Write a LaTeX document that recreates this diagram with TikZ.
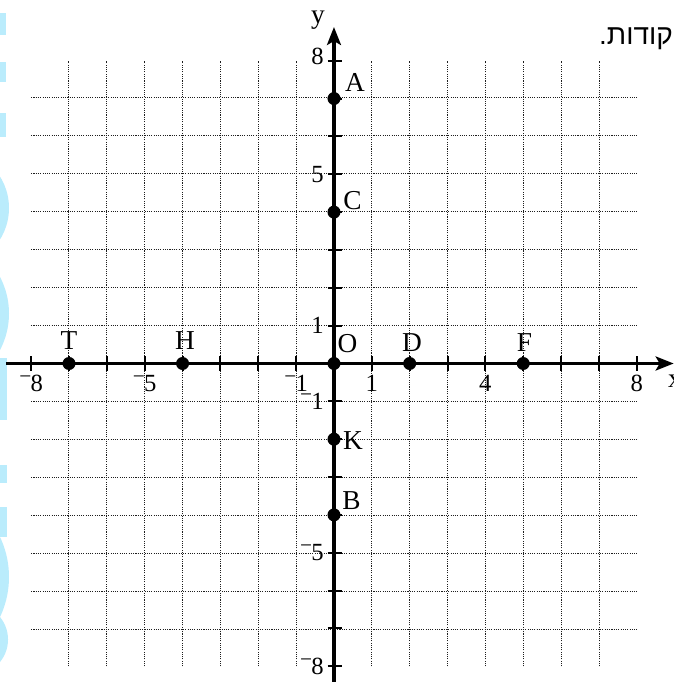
\documentclass[tikz,border=0pt]{standalone}
\usepackage{fontspec}
\setmainfont{Liberation Serif}
\newfontfamily\hebfont[Script=Hebrew]{Liberation Sans}
\TeXXeTstate=1
\usetikzlibrary{arrows.meta}
\definecolor{wm}{RGB}{186,236,252}
\definecolor{gridc}{RGB}{30,30,30}
\newcommand{\mn}{\raisebox{0.32em}{\fontsize{16pt}{16pt}\selectfont −}\kern-0.5pt}
\begin{document}
\begin{tikzpicture}[x=28.3875pt,y=28.3875pt,
  wmark/.style={fill=wm,draw=none},
  gridl/.style={draw=gridc,line width=0.8pt,dash pattern=on 0.8pt off 0.9pt},
  axisl/.style={line width=2.3pt,-{Stealth[length=13.5pt,width=10.5pt,inset=3pt]}},
  tk/.style={line width=1.5pt},
  tl/.style={font=\fontsize{18.5pt}{20pt}\selectfont,inner sep=0pt},
  pl/.style={font=\fontsize{20.5pt}{22pt}\selectfont,inner sep=0pt},
  dot/.style={circle,fill=black,inner sep=0pt,minimum size=9.75pt}]
\useasboundingbox (-8.824,-8.415) rectangle (8.983,9.604);
% watermark fragments at the left edge
\fill[wmark] (-8.9,9.261) rectangle (-8.666,8.679);
\fill[wmark] (-8.9,7.966) rectangle (-8.666,7.437);
\fill[wmark] (-8.9,6.618) rectangle (-8.666,5.984);
\fill[wmark] (-10.161,4.108) circle (1.575);
\fill[wmark] (-10.660,1.321) circle (2.074);
\fill[wmark] (-8.9,0.145) rectangle (-8.639,-1.493);
\fill[wmark] (-8.9,-2.682) rectangle (-8.639,-3.157);
\fill[wmark] (-8.9,-3.791) rectangle (-8.639,-4.584);
\fill[wmark] (-11.054,-5.641) circle (2.468);
\fill[wmark] (-9.553,-7.292) circle (0.941);
% grid
\draw[gridl] (-8,-8) grid (8,8);
% axes
\coordinate (xs) at (-8.666,0);
\coordinate (xe) at (8.975,0);
\coordinate (ys) at (0,-8.6);
\coordinate (ye) at (0,8.89);
\draw[axisl] (xs) -- (xe);
\draw[axisl] (ys) -- (ye);
\foreach \i in {-8,...,-1,1,2,...,8}{
  \draw[tk] (\i,-0.185) -- (\i,0.185);
  \draw[tk] (-0.17,\i) -- (0.22,\i);
}
% tick labels
\foreach \i/\t in {-8/\mn8,-5/\mn5,-1/\mn1,1/1,4/4,8/8}{
  \node[tl,anchor=base] (tx\i) at (\i,-0.74) {\t};
}
\node[tl,anchor=east] (ty8) at (-0.264,8.12) {8};
\foreach \j/\t in {5/5,1/1,-1/\mn1,-5/\mn5,-8/\mn8}{
  \node[tl,anchor=east] (ty\j) at (-0.264,\j) {\t};
}
% axis names
\node[pl] (ylab) at (-0.423,9.075) {y};
\node[pl,anchor=west] (xlab) at (8.82,-0.462) {x};
% points
\node[dot] (A) at (0,7) {};
\node[dot] (C) at (0,4) {};
\node[dot] (O) at (0,0) {};
\node[dot] (D) at (2,0) {};
\node[dot] (F) at (5,0) {};
\node[dot] (T) at (-7,0) {};
\node[dot] (H) at (-4,0) {};
\node[dot] (K) at (0,-2) {};
\node[dot] (B) at (0,-4) {};
\node[pl] (lA) at (0.555,7.424) {A};
\node[pl] (lC) at (0.489,4.293) {C};
\node[pl] (lO) at (0.357,0.515) {O};
\node[pl] (lD) at (2.061,0.555) {D};
\node[pl] (lF) at (5.033,0.555) {F};
\node[pl] (lT) at (-7.0,0.594) {T};
\node[pl] (lH) at (-3.937,0.594) {H};
\node[pl] (lK) at (0.502,-2.048) {K};
\node[pl] (lB) at (0.462,-3.633) {B};
% clipped Hebrew text at top right
\node[anchor=base east,inner sep=0pt,font=\hebfont\fontsize{21pt}{24pt}\selectfont] (heb) at (8.96,8.42) {\beginR קודות.\endR};
\end{tikzpicture}
\end{document}
